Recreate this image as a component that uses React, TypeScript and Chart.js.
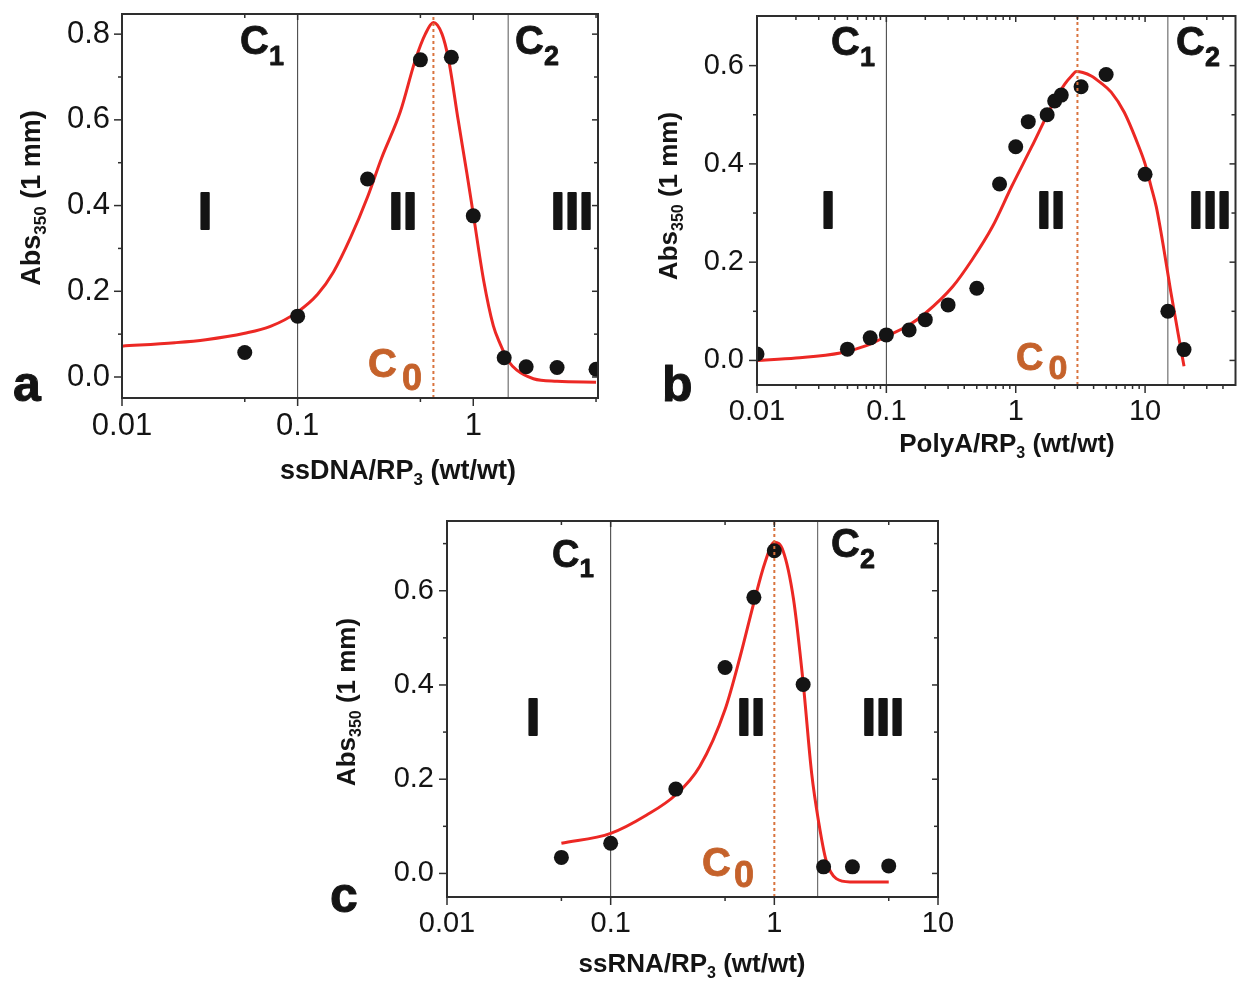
import React, { useEffect, useRef } from 'react';
import { Chart, registerables } from 'chart.js';

Chart.register(...registerables);

const FONT = "'Liberation Sans', Arial, Helvetica, sans-serif";
const RED = '#ec2824';
const ORANGE = '#c5622b';
const ORANGE_LINE = '#d9733e';
const INK = '#141414';

// ---------------- Panel a : ssDNA ----------------
const aPointX = [0.05, 0.1, 0.25, 0.5, 0.75, 1.0, 1.5, 2, 3, 5];
const aPointY = [0.057, 0.142, 0.462, 0.74, 0.746, 0.376, 0.045, 0.024, 0.022, 0.018];
const aFitX = [0.01, 0.02, 0.03, 0.05, 0.07, 0.1, 0.13, 0.16, 0.2, 0.25, 0.3, 0.385, 0.468, 0.533, 0.593, 0.664, 0.724, 0.82, 0.92, 1.0, 1.145, 1.3, 1.42, 1.6, 1.77, 2.2, 3, 5];
const aFitY = [0.072, 0.08, 0.087, 0.102, 0.118, 0.152, 0.193, 0.245, 0.325, 0.42, 0.51, 0.62, 0.74, 0.8, 0.827, 0.8, 0.74, 0.6, 0.475, 0.38, 0.226, 0.12, 0.078, 0.035, 0.016, -0.004, -0.01, -0.012];
const aXMajor = [0.01, 0.1, 1];
const aXMinor = [0.05, 0.5, 5];
const aYMajor = [0, 0.2, 0.4, 0.6, 0.8];
const aYMinor = [0.1, 0.3, 0.5, 0.7];
const aC1 = 0.1;
const aC0 = 0.593;
const aC2 = 1.58;

// ---------------- Panel b : PolyA ----------------
const bPointX = [0.01, 0.05, 0.075, 0.1, 0.15, 0.2, 0.3, 0.5, 0.75, 1.0, 1.25, 1.75, 2.0, 2.25, 3.2, 5, 10, 15, 20];
const bPointY = [0.013, 0.023, 0.046, 0.052, 0.062, 0.083, 0.113, 0.147, 0.359, 0.435, 0.486, 0.5, 0.528, 0.54, 0.557, 0.582, 0.379, 0.1, 0.022];
const bFitX = [0.01, 0.02, 0.044, 0.07, 0.1, 0.15, 0.2, 0.325, 0.46, 0.66, 0.93, 1.33, 1.9, 2.4, 2.7, 2.95, 3.3, 3.84, 4.5, 5.47, 6.9, 8.8, 10, 11.1, 12.2, 14, 15.8, 18, 20];
const bFitY = [0.0, 0.005, 0.015, 0.03, 0.049, 0.072, 0.096, 0.15, 0.205, 0.272, 0.354, 0.435, 0.518, 0.563, 0.579, 0.588, 0.586, 0.579, 0.566, 0.546, 0.505, 0.44, 0.4, 0.355, 0.313, 0.225, 0.14, 0.055, -0.012];
const bXMajor = [0.01, 0.1, 1, 10];
const bXMinor = [0.02, 0.03, 0.04, 0.05, 0.06, 0.07, 0.08, 0.09, 0.2, 0.3, 0.4, 0.5, 0.6, 0.7, 0.8, 0.9, 2, 3, 4, 5, 6, 7, 8, 9, 20, 30, 40];
const bYMajor = [0, 0.2, 0.4, 0.6];
const bYMinor = [0.1, 0.3, 0.5];
const bC1 = 0.1;
const bC0 = 3;
const bC2 = 15;

// ---------------- Panel c : ssRNA ----------------
const cPointX = [0.05, 0.1, 0.25, 0.5, 0.75, 1.0, 1.5, 2, 3, 5];
const cPointY = [0.034, 0.064, 0.179, 0.437, 0.586, 0.685, 0.401, 0.014, 0.014, 0.016];
const cFitX = [0.05, 0.1, 0.166, 0.25, 0.35, 0.5, 0.62, 0.75, 0.877, 1.0, 1.13, 1.31, 1.5, 1.69, 1.87, 2.07, 2.39, 2.9, 5];
const cFitY = [0.064, 0.085, 0.124, 0.167, 0.227, 0.348, 0.462, 0.575, 0.66, 0.703, 0.685, 0.582, 0.405, 0.213, 0.107, 0.028, -0.011, -0.018, -0.018];
const cXMajor = [0.01, 0.1, 1, 10];
const cXMinor = [0.05, 0.5, 5];
const cYMajor = [0, 0.2, 0.4, 0.6];
const cYMinor = [0.1, 0.3, 0.5, 0.7];
const cC1 = 0.1;
const cC0 = 1.0;
const cC2 = 1.84;

type Part = { t: string; size: number; dy?: number; gap?: number };
type Label = { x: number; y: number; parts: Part[]; align?: 'left' | 'center'; color?: string; rot?: boolean; heavy?: number };

type Panel = {
  area: { left: number; right: number; top: number; bottom: number };
  xMin: number; xMax: number; yMin: number; yMax: number;
  pointX: number[]; pointY: number[]; fitX: number[]; fitY: number[];
  xMajor: number[]; xMinor: number[]; yMajor: number[]; yMinor: number[];
  c1: number; c0: number; c2: number;
  tickSize: number; yPad: number; xPad: number;
  labels: Label[];
};

const sub = (t: string, size: number, dy: number, gap = 0): Part => ({ t, size, dy, gap });

const panels: Panel[] = [
  {
    area: { left: 122, right: 598, top: 14, bottom: 398 },
    xMin: 0.01, xMax: 5.13, yMin: -0.049, yMax: 0.847,
    pointX: aPointX, pointY: aPointY, fitX: aFitX, fitY: aFitY,
    xMajor: aXMajor, xMinor: aXMinor, yMajor: aYMajor, yMinor: aYMinor,
    c1: aC1, c0: aC0, c2: aC2,
    tickSize: 31, yPad: 12, xPad: 10,
    labels: [
      { x: 13, y: 401, heavy: 1, parts: [{ t: 'a', size: 50 }] },
      { x: 240, y: 54, heavy: 0.8, parts: [{ t: 'C', size: 40 }, sub('1', 27, 11)] },
      { x: 515, y: 54, heavy: 0.8, parts: [{ t: 'C', size: 40 }, sub('2', 27, 11)] },
      { x: 368, y: 377, heavy: 0.8, color: ORANGE, parts: [{ t: 'C', size: 40 }, sub('0', 36, 13, 5)] },
      { x: 205, y: 229, heavy: 2, align: 'center', parts: [{ t: 'I', size: 51 }] },
      { x: 403, y: 229, heavy: 2, align: 'center', parts: [{ t: 'II', size: 51 }] },
      { x: 572, y: 229, heavy: 2, align: 'center', parts: [{ t: 'III', size: 51 }] },
      { x: 398, y: 479, align: 'center', parts: [{ t: 'ssDNA/RP', size: 27 }, sub('3', 17, 6), { t: ' (wt/wt)', size: 27 }] },
      { x: 40, y: 198, rot: true, align: 'center', parts: [{ t: 'Abs', size: 27 }, sub('350', 17, 6), { t: ' (1 mm)', size: 27 }] },
    ],
  },
  {
    area: { left: 757, right: 1238, top: 16, bottom: 385 },
    xMin: 0.01, xMax: 50, yMin: -0.05, yMax: 0.701,
    pointX: bPointX, pointY: bPointY, fitX: bFitX, fitY: bFitY,
    xMajor: bXMajor, xMinor: bXMinor, yMajor: bYMajor, yMinor: bYMinor,
    c1: bC1, c0: bC0, c2: bC2,
    tickSize: 29, yPad: 13, xPad: 10,
    labels: [
      { x: 662, y: 401, heavy: 1, parts: [{ t: 'b', size: 50 }] },
      { x: 831, y: 55, heavy: 0.8, parts: [{ t: 'C', size: 40 }, sub('1', 27, 11)] },
      { x: 1176, y: 55, heavy: 0.8, parts: [{ t: 'C', size: 40 }, sub('2', 27, 11)] },
      { x: 1016, y: 370, heavy: 0.8, color: ORANGE, parts: [{ t: 'C', size: 38 }, sub('0', 34, 9, 5)] },
      { x: 828, y: 228, heavy: 2, align: 'center', parts: [{ t: 'I', size: 51 }] },
      { x: 1051, y: 228, heavy: 2, align: 'center', parts: [{ t: 'II', size: 51 }] },
      { x: 1210, y: 228, heavy: 2, align: 'center', parts: [{ t: 'III', size: 51 }] },
      { x: 1007, y: 452, align: 'center', parts: [{ t: 'PolyA/RP', size: 26 }, sub('3', 16, 6), { t: ' (wt/wt)', size: 26 }] },
      { x: 677, y: 196, rot: true, align: 'center', parts: [{ t: 'Abs', size: 26 }, sub('350', 16, 6), { t: ' (1 mm)', size: 26 }] },
    ],
  },
  {
    area: { left: 447, right: 938, top: 521, bottom: 897 },
    xMin: 0.01, xMax: 10, yMin: -0.05, yMax: 0.748,
    pointX: cPointX, pointY: cPointY, fitX: cFitX, fitY: cFitY,
    xMajor: cXMajor, xMinor: cXMinor, yMajor: cYMajor, yMinor: cYMinor,
    c1: cC1, c0: cC0, c2: cC2,
    tickSize: 29, yPad: 13, xPad: 10,
    labels: [
      { x: 330, y: 912, heavy: 1, parts: [{ t: 'c', size: 50 }] },
      { x: 552, y: 567, heavy: 0.8, parts: [{ t: 'C', size: 38 }, sub('1', 26, 10)] },
      { x: 831, y: 557, heavy: 0.8, parts: [{ t: 'C', size: 40 }, sub('2', 27, 11)] },
      { x: 702, y: 876, heavy: 0.8, color: ORANGE, parts: [{ t: 'C', size: 40 }, sub('0', 36, 11, 3)] },
      { x: 533, y: 735, heavy: 2, align: 'center', parts: [{ t: 'I', size: 51 }] },
      { x: 751, y: 735, heavy: 2, align: 'center', parts: [{ t: 'II', size: 51 }] },
      { x: 883, y: 735, heavy: 2, align: 'center', parts: [{ t: 'III', size: 51 }] },
      { x: 692, y: 972, align: 'center', parts: [{ t: 'ssRNA/RP', size: 26 }, sub('3', 16, 6), { t: ' (wt/wt)', size: 26 }] },
      { x: 355, y: 702, rot: true, align: 'center', parts: [{ t: 'Abs', size: 26 }, sub('350', 16, 6), { t: ' (1 mm)', size: 26 }] },
    ],
  },
];

const Y_AXIS_W = 80;
const X_AXIS_H = 60;

function framePlugin(p: Panel) {
  return {
    id: 'frameTicks',
    afterDatasetsDraw(chart: any) {
      const { ctx, chartArea: a, scales } = chart;
      const xs = scales.x;
      const ys = scales.y;
      ctx.save();
      ctx.strokeStyle = '#2e2e2e';
      ctx.lineWidth = 1.5;
      const seg = (x1: number, y1: number, x2: number, y2: number) => {
        ctx.beginPath();
        ctx.moveTo(x1, y1);
        ctx.lineTo(x2, y2);
        ctx.stroke();
      };
      p.xMajor.forEach((v) => {
        const px = xs.getPixelForValue(v);
        seg(px, a.bottom, px, a.bottom + 8);
        seg(px, a.top, px, a.top + 6);
      });
      p.xMinor.forEach((v) => {
        const px = xs.getPixelForValue(v);
        seg(px, a.bottom, px, a.bottom + 4);
        seg(px, a.top, px, a.top + 4);
      });
      p.yMajor.forEach((v) => {
        const py = ys.getPixelForValue(v);
        seg(a.left - 8, py, a.left, py);
        seg(a.right - 6, py, a.right, py);
      });
      p.yMinor.forEach((v) => {
        const py = ys.getPixelForValue(v);
        seg(a.left - 4, py, a.left, py);
        seg(a.right - 4, py, a.right, py);
      });
      ctx.lineWidth = 2;
      ctx.strokeRect(a.left, a.top, a.right - a.left, a.bottom - a.top);
      ctx.restore();
    },
  };
}

function textPlugin(p: Panel) {
  return {
    id: 'panelTexts',
    afterDraw(chart: any) {
      const ctx = chart.ctx as CanvasRenderingContext2D;
      ctx.save();
      ctx.textBaseline = 'alphabetic';
      ctx.textAlign = 'left';
      ctx.lineJoin = 'round';
      p.labels.forEach((l) => {
        let total = 0;
        const widths = l.parts.map((pt) => {
          ctx.font = `bold ${pt.size}px ${FONT}`;
          const w = ctx.measureText(pt.t).width + (pt.gap || 0);
          total += w;
          return w;
        });
        ctx.fillStyle = l.color || INK;
        ctx.strokeStyle = l.color || INK;
        ctx.save();
        ctx.translate(l.x, l.y);
        if (l.rot) ctx.rotate(-Math.PI / 2);
        let cx = l.align === 'center' ? -total / 2 : 0;
        l.parts.forEach((pt, i) => {
          ctx.font = `bold ${pt.size}px ${FONT}`;
          ctx.fillText(pt.t, cx + (pt.gap || 0), pt.dy || 0);
          if (l.heavy) {
            ctx.lineWidth = l.heavy;
            ctx.strokeText(pt.t, cx + (pt.gap || 0), pt.dy || 0);
          }
          cx += widths[i];
        });
        ctx.restore();
      });
      ctx.restore();
    },
  };
}

function vline(x: number, p: Panel) {
  return [{ x, y: p.yMin }, { x, y: p.yMax }];
}

function buildConfig(p: Panel): any {
  const W = 1243;
  const H = 982;
  return {
    type: 'scatter',
    data: {
      datasets: [
        { label: 'C1', data: vline(p.c1, p), showLine: true, borderColor: '#3a3a3a', borderWidth: 1, pointRadius: 0, order: 6 },
        { label: 'C2', data: vline(p.c2, p), showLine: true, borderColor: '#555555', borderWidth: 1, pointRadius: 0, order: 5 },
        {
          label: 'fit',
          data: p.fitX.map((x, i) => ({ x, y: p.fitY[i] })),
          showLine: true, borderColor: RED, borderWidth: 3, pointRadius: 0,
          cubicInterpolationMode: 'monotone', order: 3,
        },
        {
          label: 'data',
          data: p.pointX.map((x, i) => ({ x, y: p.pointY[i] })),
          backgroundColor: INK, borderWidth: 0, pointRadius: 7.5, pointHoverRadius: 7.5, order: 2,
        },
        { label: 'C0', data: vline(p.c0, p), showLine: true, borderColor: ORANGE_LINE, borderWidth: 2, borderDash: [3, 3], pointRadius: 0, order: 1 },
      ],
    },
    options: {
      responsive: false,
      animation: false,
      events: [],
      layout: {
        padding: {
          left: p.area.left - Y_AXIS_W,
          right: W - p.area.right,
          top: p.area.top,
          bottom: H - p.area.bottom - X_AXIS_H,
        },
      },
      plugins: { legend: { display: false }, tooltip: { enabled: false }, title: { display: false } },
      scales: {
        x: {
          type: 'logarithmic', position: 'bottom', min: p.xMin, max: p.xMax, bounds: 'data',
          grid: { display: false, drawTicks: false }, border: { display: false },
          ticks: {
            autoSkip: false, maxRotation: 0, minRotation: 0, padding: p.xPad, color: INK,
            font: { family: FONT, size: p.tickSize },
            callback: (v: any) => String(v),
          },
          afterBuildTicks: (s: any) => { s.ticks = p.xMajor.map((v) => ({ value: v })); },
          afterFit: (s: any) => { s.height = X_AXIS_H; s.paddingLeft = 0; s.paddingRight = 0; s.paddingTop = 0; s.paddingBottom = 0; },
        },
        y: {
          type: 'linear', position: 'left', min: p.yMin, max: p.yMax, bounds: 'data',
          grid: { display: false, drawTicks: false }, border: { display: false },
          ticks: {
            autoSkip: false, padding: p.yPad, color: INK,
            font: { family: FONT, size: p.tickSize },
            callback: (v: any) => Number(v).toFixed(1),
          },
          afterBuildTicks: (s: any) => { s.ticks = p.yMajor.map((v) => ({ value: v })); },
          afterFit: (s: any) => { s.width = Y_AXIS_W; s.paddingLeft = 0; s.paddingRight = 0; s.paddingTop = 0; s.paddingBottom = 0; },
        },
      },
    },
    plugins: [framePlugin(p), textPlugin(p)],
  };
}

export default function App() {
  const r0 = useRef<HTMLCanvasElement>(null);
  const r1 = useRef<HTMLCanvasElement>(null);
  const r2 = useRef<HTMLCanvasElement>(null);

  useEffect(() => {
    document.body.style.margin = '0';
    const refs = [r0, r1, r2];
    const charts = panels.map((p, i) => new Chart(refs[i].current as HTMLCanvasElement, buildConfig(p)));
    return () => charts.forEach((c) => c.destroy());
  }, []);

  const cs: React.CSSProperties = { position: 'absolute', left: 0, top: 0, width: 1243, height: 982 };
  return (
    <div style={{ position: 'absolute', left: 0, top: 0, width: 1243, height: 982, background: '#ffffff', overflow: 'hidden' }}>
      <canvas ref={r0} width={1243} height={982} style={cs} />
      <canvas ref={r1} width={1243} height={982} style={cs} />
      <canvas ref={r2} width={1243} height={982} style={cs} />
    </div>
  );
}
